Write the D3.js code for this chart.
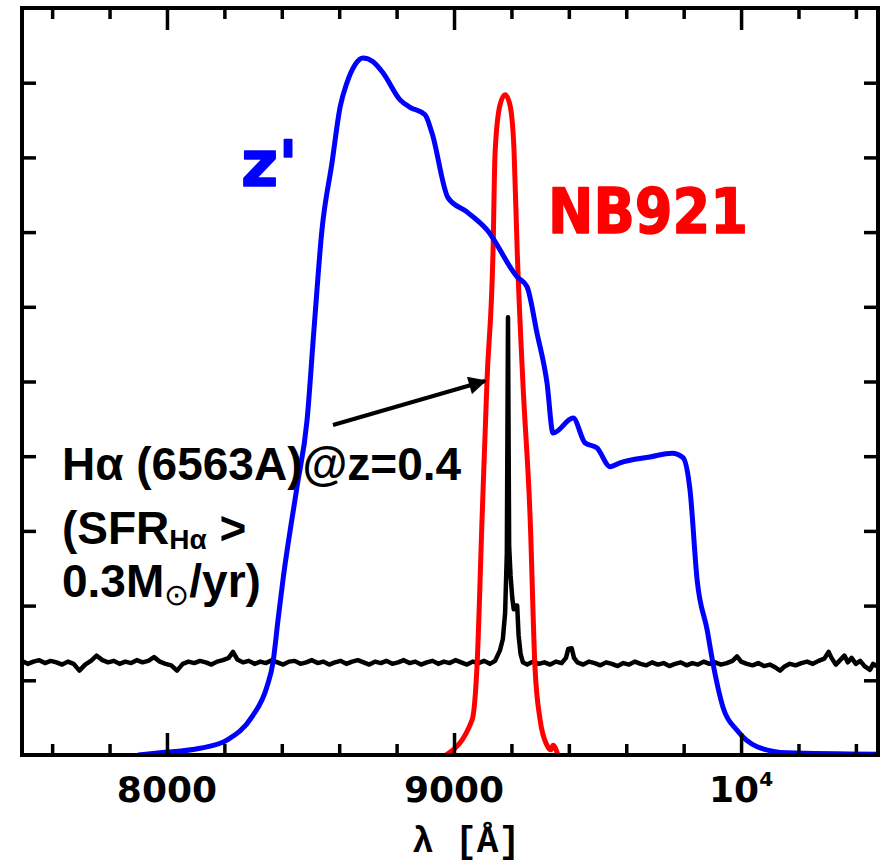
<!DOCTYPE html>
<html>
<head>
<meta charset="utf-8">
<script src="https://cdn.jsdelivr.net/npm/d3@7"></script>
<style>
	body { margin: 0; background: #fff; }
</style>
</head>
<body>
<div id="content"></div>
<script>

// z' filter transmission (wavelength in Angstrom, relative units)
var zLambda = [7899, 7976, 8115, 8209, 8296, 8348, 8369, 8387, 8404, 8453, 8488, 8512, 8540, 8575, 8603, 8627, 8655, 8683, 8718, 8753, 8812, 8847, 8899, 8923, 8979, 9045, 9115, 9220, 9254, 9289, 9324, 9345, 9415, 9456, 9498, 9544, 9578, 9683, 9760, 9798, 9822, 9847, 9882, 9902, 9937, 9986, 10056, 10160, 10477];
var zTrans = [0, 0.03, 0.09, 0.20, 0.51, 0.91, 1.23, 1.81, 2.34, 3.59, 4.48, 5.69, 7.03, 7.93, 8.67, 9.00, 9.24, 9.33, 9.28, 9.13, 8.77, 8.67, 8.57, 8.33, 7.46, 7.27, 7.03, 6.40, 6.27, 5.65, 4.98, 4.31, 4.51, 4.18, 4.11, 3.86, 3.91, 3.99, 4.04, 3.98, 3.55, 2.34, 1.67, 1.23, 0.64, 0.33, 0.11, 0.03, 0.01];

// NB921 narrow-band filter
var nbLambda = [8972, 9063, 9080, 9098, 9115, 9136, 9143, 9160, 9178, 9195, 9209, 9220, 9240, 9265, 9282, 9300, 9324, 9338, 9345, 9362];
var nbTrans = [0, 0.47, 1.18, 3.19, 5.02, 6.76, 8.06, 8.70, 8.84, 8.70, 8.10, 6.76, 4.98, 3.19, 1.18, 0.47, 0.13, 0.07, 0.13, 0];

// Halpha emitter spectrum at z=0.4 [lambda, flux]
var spectrum = [
	[7495, 1.26], [7515, 1.22], [7535, 1.25], [7555, 1.27], [7575, 1.23], [7595, 1.26], [7615, 1.24], [7635, 1.21],
	[7655, 1.25], [7675, 1.22], [7695, 1.13], [7715, 1.21], [7735, 1.26], [7755, 1.33], [7775, 1.27], [7795, 1.24],
	[7815, 1.26], [7835, 1.22], [7855, 1.25], [7875, 1.23], [7895, 1.27], [7915, 1.24], [7935, 1.26], [7955, 1.31],
	[7975, 1.25], [7995, 1.22], [8015, 1.20], [8035, 1.13], [8055, 1.22], [8075, 1.25], [8095, 1.23], [8115, 1.26],
	[8135, 1.24], [8155, 1.21], [8175, 1.25], [8195, 1.27], [8215, 1.30], [8230, 1.38], [8245, 1.28], [8265, 1.24],
	[8285, 1.26], [8305, 1.22], [8325, 1.25], [8345, 1.23], [8365, 1.27], [8385, 1.24], [8405, 1.21], [8425, 1.25],
	[8445, 1.26], [8465, 1.22], [8485, 1.24], [8505, 1.27], [8525, 1.23], [8545, 1.25], [8565, 1.21], [8585, 1.24],
	[8605, 1.26], [8625, 1.22], [8645, 1.25], [8665, 1.27], [8685, 1.24], [8705, 1.21], [8725, 1.25], [8745, 1.23],
	[8765, 1.26], [8785, 1.22], [8805, 1.24], [8825, 1.27], [8845, 1.23], [8865, 1.25], [8885, 1.21], [8905, 1.24],
	[8925, 1.26], [8945, 1.22], [8965, 1.25], [8985, 1.23], [9005, 1.27], [9025, 1.24], [9045, 1.21], [9065, 1.25],
	[9085, 1.23], [9105, 1.26], [9125, 1.22], [9143, 1.26], [9160, 1.40], [9170, 1.55], [9178, 1.90], [9184, 2.70],
	[9188, 5.86], [9192, 2.80], [9197, 2.40], [9203, 2.10], [9208, 1.95], [9214, 2.00], [9220, 2.00], [9225, 1.60],
	[9232, 1.35], [9240, 1.24], [9255, 1.21], [9275, 1.25], [9295, 1.22], [9315, 1.24], [9335, 1.21], [9355, 1.25],
	[9375, 1.23], [9390, 1.30], [9398, 1.42], [9410, 1.43], [9418, 1.30], [9430, 1.24], [9450, 1.21], [9470, 1.25],
	[9490, 1.23], [9510, 1.20], [9530, 1.24], [9550, 1.22], [9570, 1.19], [9590, 1.23], [9610, 1.21], [9630, 1.25],
	[9650, 1.22], [9670, 1.20], [9690, 1.24], [9710, 1.21], [9730, 1.23], [9750, 1.19], [9770, 1.22], [9790, 1.24],
	[9810, 1.20], [9830, 1.23], [9850, 1.21], [9870, 1.25], [9890, 1.22], [9910, 1.24], [9930, 1.21], [9950, 1.23],
	[9970, 1.26], [9986, 1.32], [10000, 1.25], [10020, 1.22], [10040, 1.20], [10060, 1.23], [10080, 1.19], [10100, 1.21],
	[10120, 1.17], [10136, 1.13], [10150, 1.18], [10170, 1.22], [10190, 1.20], [10210, 1.23], [10230, 1.25], [10250, 1.22],
	[10270, 1.26], [10290, 1.29], [10305, 1.38], [10315, 1.30], [10330, 1.21], [10345, 1.27], [10360, 1.33], [10372, 1.24],
	[10385, 1.30], [10400, 1.22], [10415, 1.26], [10430, 1.19], [10449, 1.14], [10460, 1.22], [10477, 1.18]
];

// axes
var xDomain = [7495, 10477];
var yDomain = [0, 10];
var xMajorTicks = [8000, 9000, 10000];
var xMinorTicks = [7600, 7800, 8200, 8400, 8600, 8800, 9200, 9400, 9600, 9800, 10200, 10400];
var xTickLabels = ["8000", "9000", "10"];
var xTickSup = ["", "", "4"];
var yTicks = [1, 2, 3, 4, 5, 6, 7, 8, 9];

function main() {
	var { svg, width, height } = initSVG();

	var x = d3.scaleLinear().domain(xDomain).range([22, 878]);
	var y = d3.scaleLinear().domain(yDomain).range([755, 8]);

	drawCurves(svg, x, y);
	drawFrame(svg, x, y);
	drawLabels(svg, x, y);
}

function initSVG() {
	var width = 882;
	var height = 866;

	var svg = d3.select("#content")
		.append("svg")
		.attr("width", width)
		.attr("height", height)
		.style("display", "block");

	svg.append("rect")
		.attr("width", width)
		.attr("height", height)
		.attr("fill", "white");

	return { svg, width, height };
}

function drawCurves(svg, x, y) {
	svg.append("clipPath")
		.attr("id", "plotClip")
		.append("rect")
		.attr("x", x(xDomain[0]))
		.attr("y", y(yDomain[1]))
		.attr("width", x(xDomain[1]) - x(xDomain[0]))
		.attr("height", y(yDomain[0]) - y(yDomain[1]));

	var g = svg.append("g").attr("clip-path", "url(#plotClip)");

	var specLine = d3.line()
		.x(function (d) { return x(d[0]); })
		.y(function (d) { return y(d[1]); });

	g.append("path")
		.datum(spectrum)
		.attr("fill", "none")
		.attr("stroke", "black")
		.attr("stroke-width", 4.5)
		.attr("stroke-linejoin", "round")
		.attr("d", specLine);

	var nbData = nbLambda.map(function (l, i) { return [l, nbTrans[i]]; });
	var zData = zLambda.map(function (l, i) { return [l, zTrans[i]]; });

	var smooth = d3.line()
		.x(function (d) { return x(d[0]); })
		.y(function (d) { return y(d[1]); })
		.curve(d3.curveMonotoneX);

	g.append("path")
		.datum(nbData)
		.attr("fill", "none")
		.attr("stroke", "#ff0000")
		.attr("stroke-width", 5)
		.attr("stroke-linejoin", "round")
		.attr("d", smooth);

	g.append("path")
		.datum(zData)
		.attr("fill", "none")
		.attr("stroke", "#0000ff")
		.attr("stroke-width", 5)
		.attr("stroke-linejoin", "round")
		.attr("d", smooth);
}

function drawFrame(svg, x, y) {
	var y0 = y(yDomain[0]), y1 = y(yDomain[1]);
	var x0 = x(xDomain[0]), x1 = x(xDomain[1]);

	// inward ticks on all four sides
	function tickGroup(axis, tx, ty) {
		var g = svg.append("g")
			.attr("transform", "translate(" + tx + "," + ty + ")")
			.call(axis);
		g.select(".domain").remove();
		g.selectAll(".tick text").remove();
		g.selectAll(".tick line")
			.attr("stroke", "black")
			.attr("stroke-width", 3.5);
	}

	tickGroup(d3.axisTop(x).tickValues(xMinorTicks).tickSize(11), 0, y0);
	tickGroup(d3.axisTop(x).tickValues(xMajorTicks).tickSize(22), 0, y0);
	tickGroup(d3.axisBottom(x).tickValues(xMinorTicks).tickSize(11), 0, y1);
	tickGroup(d3.axisBottom(x).tickValues(xMajorTicks).tickSize(22), 0, y1);
	tickGroup(d3.axisRight(y).tickValues(yTicks).tickSize(14), x0, 0);
	tickGroup(d3.axisLeft(y).tickValues(yTicks).tickSize(14), x1, 0);

	svg.append("rect")
		.attr("x", x0)
		.attr("y", y1)
		.attr("width", x1 - x0)
		.attr("height", y0 - y1)
		.attr("fill", "none")
		.attr("stroke", "black")
		.attr("stroke-width", 4);

	// tick labels
	var labels = svg.append("g")
		.attr("font-family", "'DejaVu Sans', sans-serif")
		.attr("font-weight", "bold")
		.attr("font-size", 36)
		.attr("fill", "black");

	xMajorTicks.forEach(function (v, i) {
		var t = labels.append("text")
			.attr("x", x(v))
			.attr("y", 802)
			.attr("text-anchor", "middle")
			.text(xTickLabels[i]);
		if (xTickSup[i]) {
			t.append("tspan")
				.attr("font-size", 20)
				.attr("dy", -16)
				.text(xTickSup[i]);
		}
	});

	svg.append("text")
		.attr("x", 466)
		.attr("y", 852)
		.attr("text-anchor", "middle")
		.attr("font-family", "'Liberation Mono', 'DejaVu Sans Mono', monospace")
		.attr("font-weight", "bold")
		.attr("font-size", 36)
		.text("λ [Å]");
}

function drawLabels(svg, x, y) {
	// filter names
	svg.append("text")
		.attr("x", 241)
		.attr("y", 186)
		.attr("font-family", "'DejaVu Sans', sans-serif")
		.attr("font-weight", "bold")
		.attr("font-size", 64)
		.attr("fill", "#0000ff")
		.attr("stroke", "#0000ff")
		.attr("stroke-width", 1.5)
		.attr("stroke-linejoin", "round")
		.text("z'");

	svg.append("text")
		.attr("x", 548)
		.attr("y", 233)
		.attr("font-family", "'DejaVu Sans', sans-serif")
		.attr("font-weight", "bold")
		.attr("font-size", 62)
		.attr("textLength", 200)
		.attr("lengthAdjust", "spacingAndGlyphs")
		.attr("fill", "#ff0000")
		.attr("stroke", "#ff0000")
		.attr("stroke-width", 1.5)
		.attr("stroke-linejoin", "round")
		.text("NB921");

	// annotation
	var note = svg.append("g")
		.attr("font-family", "'Liberation Sans', Arial, sans-serif")
		.attr("font-weight", "bold")
		.attr("font-size", 46)
		.attr("fill", "black");

	note.append("text")
		.attr("x", 62)
		.attr("y", 480)
		.text("Hα (6563A)@z=0.4");

	var l2 = note.append("text")
		.attr("x", 62)
		.attr("y", 544);
	l2.append("tspan").text("(SFR");
	l2.append("tspan").attr("font-size", 28).attr("dy", 5).text("Hα");
	l2.append("tspan").attr("dy", -5).text(" >");

	var l3 = note.append("text")
		.attr("x", 62)
		.attr("y", 597);
	l3.append("tspan").text("0.3M");
	l3.append("tspan").attr("font-size", 30).attr("dy", 8).attr("font-weight", "normal").text("⊙");
	l3.append("tspan").attr("dy", -8).text("/yr)");

	// arrow pointing at the emission line
	svg.append("defs")
		.append("marker")
		.attr("id", "arrowHead")
		.attr("viewBox", "0 0 10 10")
		.attr("refX", 9)
		.attr("refY", 5)
		.attr("markerWidth", 5)
		.attr("markerHeight", 4.5)
		.attr("markerUnits", "strokeWidth")
		.attr("orient", "auto")
		.append("path")
		.attr("d", "M0,0 L10,5 L0,10 z")
		.attr("fill", "black");

	svg.append("line")
		.attr("x1", 333)
		.attr("y1", 425)
		.attr("x2", 485)
		.attr("y2", 381)
		.attr("stroke", "black")
		.attr("stroke-width", 4)
		.attr("marker-end", "url(#arrowHead)");
}

(() => {
	main();
})()
</script>
</body>
</html>
